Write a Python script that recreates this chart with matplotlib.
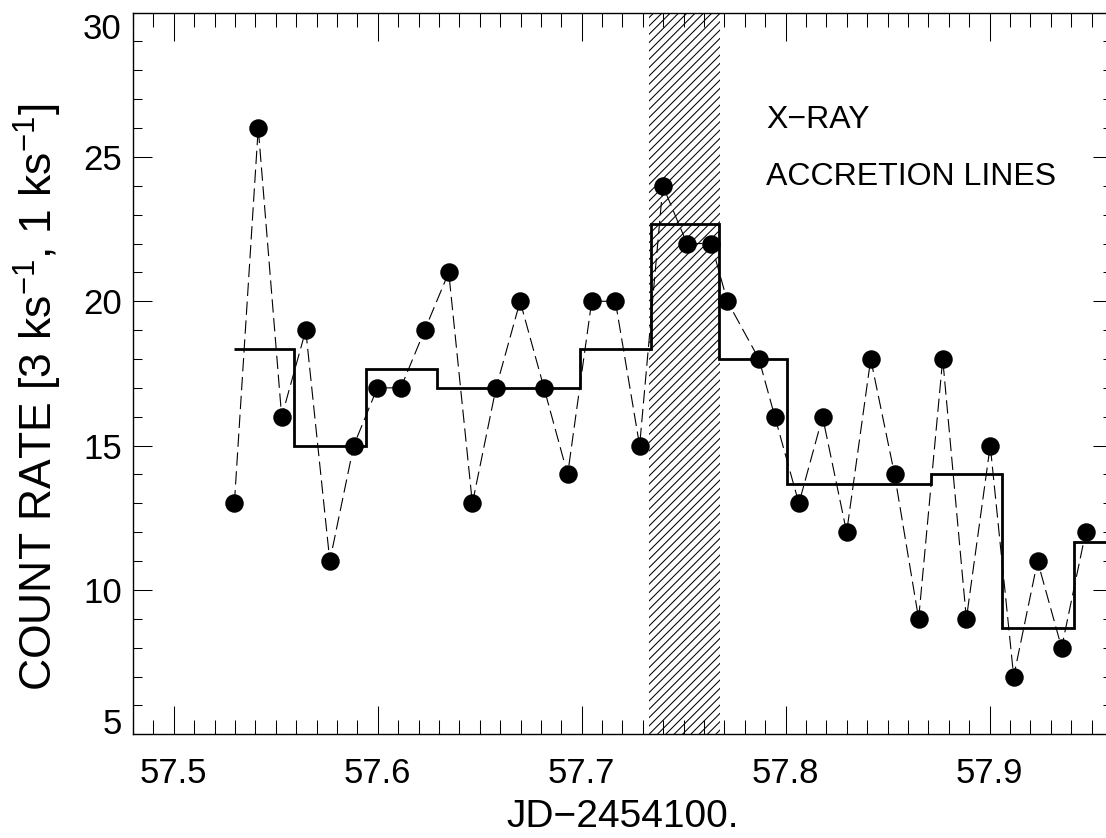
import numpy as np
import matplotlib
matplotlib.use('Agg')
import matplotlib.pyplot as plt

plt.rcParams['font.family'] = ['Liberation Sans', 'DejaVu Sans']
plt.rcParams['mathtext.default'] = 'regular'
plt.rcParams['hatch.linewidth'] = 0.75

# 1 ks bins: time (JD-2454100.) and counts
t_1ks = [57.5297, 57.5414, 57.5529, 57.5647, 57.5765, 57.5882, 57.5998, 57.6113,
         57.6230, 57.6348, 57.6464, 57.6580, 57.6698, 57.6815, 57.6931, 57.7049,
         57.7165, 57.7284, 57.7398, 57.7516, 57.7635, 57.7714, 57.7869, 57.7947,
         57.8065, 57.8181, 57.8299, 57.8417, 57.8534, 57.8652, 57.8770, 57.8886,
         57.9003, 57.9118, 57.9235, 57.9353, 57.9471]
counts_1ks = [13, 26, 16, 19, 11, 15, 17, 17, 19, 21, 13, 17, 20, 17, 14, 20,
              20, 15, 24, 22, 22, 20, 18, 16, 13, 16, 12, 18, 14, 9, 18, 9,
              15, 7, 11, 8, 12]

# 3 ks bins: edges and mean rate
edges_3ks = [57.5297, 57.5588, 57.5940, 57.6289, 57.6639, 57.6990, 57.7341,
             57.7675, 57.8006, 57.8358, 57.8711, 57.9060, 57.9412, 57.9800]
rate_3ks = [18.33, 15.0, 17.67, 17.0, 17.0, 18.33, 22.67, 18.0, 13.67, 13.67,
            14.0, 8.67, 11.67]

# accretion line interval (hatched)
acc_start, acc_end = 57.7330, 57.7680

fig = plt.figure(figsize=(11.06, 8.38), dpi=100)
ax = fig.add_axes([133/1106, 1 - 734.3/838, (1112 - 133)/1106, (734.3 - 12.6)/838])

ax.axvspan(acc_start, acc_end, facecolor='none', edgecolor='black',
           hatch='////', linewidth=0, zorder=1)

ax.plot(t_1ks, counts_1ks, color='black', lw=0.8, linestyle=(0, (12, 5)),
        marker='o', ms=12.3, mfc='black', mec='black', zorder=3)
ax.stairs(rate_3ks, edges_3ks, baseline=None, color='black', lw=2.0, zorder=2)

ax.text(57.7905, 26.0, 'X\u2212RAY', fontsize=23, va='baseline', ha='left')
ax.text(57.7905, 24.03, 'ACCRETION LINES', fontsize=23, va='baseline', ha='left')

ax.set_xlim(57.48, 57.96)
ax.set_ylim(5, 30)
ax.set_xticks([57.5, 57.6, 57.7, 57.8, 57.9])
ax.set_xticks(np.arange(57.48, 57.961, 0.01), minor=True)
ax.set_yticks([5, 10, 15, 20, 25, 30])
ax.set_yticks(np.arange(5, 31, 1), minor=True)
ax.set_xticklabels(['57.5', '57.6', '57.7', '57.8', '57.9'])

ax.tick_params(axis='x', which='major', direction='in', length=20.4, width=0.75,
               top=True, labelsize=25, pad=16)
ax.tick_params(axis='x', which='minor', direction='in', length=9.9, width=0.75, top=True)
ax.tick_params(axis='y', which='major', direction='in', length=13.7, width=0.75,
               right=True, labelsize=25, pad=8)
ax.tick_params(axis='y', which='minor', direction='in', length=6.8, width=0.75, right=True)
for s in ax.spines.values():
    s.set_linewidth(1.0)

# end labels sit inside the axis range, as in the original
ylabels = ax.get_yticklabels()
ylabels[0].set_va('baseline')
ylabels[-1].set_va('top')

ax.set_xlabel('JD\u22122454100.', fontsize=28)
ax.xaxis.set_label_coords(0.5, -0.089)
ax.set_ylabel('COUNT RATE [3 ks$^{-1}$, 1 ks$^{-1}$]', fontsize=32)
ax.yaxis.set_label_coords(-0.07, 0.467)

fig.savefig('out.png', dpi=100)
